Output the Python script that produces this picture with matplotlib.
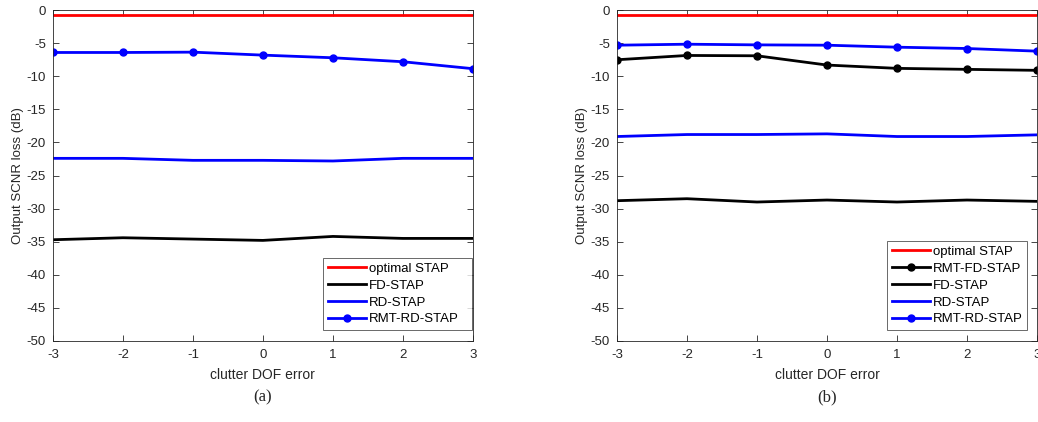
import numpy as np
import matplotlib
matplotlib.use("Agg")
import matplotlib.pyplot as plt

plt.rcParams['font.family'] = ['Liberation Sans', 'DejaVu Sans']
plt.rcParams['axes.unicode_minus'] = False

# clutter DOF error
dof_err = [-3, -2, -1, 0, 1, 2, 3]

# (a)
optimal_a = [-0.75, -0.75, -0.75, -0.75, -0.75, -0.75, -0.75]
fd_a = [-34.7, -34.4, -34.6, -34.8, -34.2, -34.5, -34.5]
rd_a = [-22.4, -22.4, -22.7, -22.7, -22.8, -22.4, -22.4]
rmt_rd_a = [-6.4, -6.4, -6.35, -6.8, -7.2, -7.8, -8.85]

# (b)
optimal_b = [-0.75, -0.75, -0.75, -0.75, -0.75, -0.75, -0.75]
rmt_fd_b = [-7.5, -6.85, -6.9, -8.3, -8.8, -8.95, -9.1]
fd_b = [-28.8, -28.5, -29.0, -28.7, -29.0, -28.7, -28.9]
rd_b = [-19.1, -18.8, -18.8, -18.7, -19.1, -19.1, -18.85]
rmt_rd_b = [-5.3, -5.15, -5.25, -5.3, -5.6, -5.8, -6.2]

gray = '#262626'
lw = 2.0
ms = 5
fs = 9.5

fig = plt.figure(figsize=(10.38, 4.22), dpi=100)
ax1 = fig.add_axes([0.051, 0.192, 0.4046, 0.784])
ax2 = fig.add_axes([0.5944, 0.192, 0.4046, 0.784])

ax1.plot(dof_err, optimal_a, color='#ff0000', lw=lw, label='optimal STAP')
ax1.plot(dof_err, fd_a, color='black', lw=lw, label='FD-STAP')
ax1.plot(dof_err, rd_a, color='#0000ff', lw=lw, label='RD-STAP')
ax1.plot(dof_err, rmt_rd_a, color='#0000ff', lw=lw, marker='o', ms=ms, label='RMT-RD-STAP')

ax2.plot(dof_err, optimal_b, color='#ff0000', lw=lw, label='optimal STAP')
ax2.plot(dof_err, rmt_fd_b, color='black', lw=lw, marker='o', ms=ms, label='RMT-FD-STAP')
ax2.plot(dof_err, fd_b, color='black', lw=lw, label='FD-STAP')
ax2.plot(dof_err, rd_b, color='#0000ff', lw=lw, label='RD-STAP')
ax2.plot(dof_err, rmt_rd_b, color='#0000ff', lw=lw, marker='o', ms=ms, label='RMT-RD-STAP')

# legend boxes (x0, y0, width, height) in axes fraction, matlab-like wide boxes
leg_boxes = [(0.643, 0.033, 0.355, 0.2), (0.643, 0.033, 0.333, 0.2)]

for ax, cap, box in [(ax1, '(a)', leg_boxes[0]), (ax2, '(b)', leg_boxes[1])]:
    ax.set_xlim(-3, 3)
    ax.set_ylim(-50, 0)
    ax.set_xticks(dof_err)
    ax.set_yticks(np.arange(-50, 1, 5))
    ax.tick_params(direction='in', top=True, right=True, colors=gray,
                   labelsize=fs, length=4, width=0.6)
    ax.tick_params(axis='x', pad=6)
    ax.tick_params(axis='y', pad=5)
    for s in ax.spines.values():
        s.set_color(gray)
        s.set_linewidth(0.6)
    ax.set_xlabel('clutter DOF error', fontsize=10, color=gray, labelpad=5)
    ax.set_ylabel('Output SCNR loss (dB)', fontsize=fs, color=gray, labelpad=2)
    leg = ax.legend(loc='lower left', bbox_to_anchor=box, mode='expand', fontsize=fs,
                    frameon=True, fancybox=False, edgecolor=gray,
                    handlelength=2.9, handletextpad=0.2, labelspacing=0.35,
                    borderpad=0.35, borderaxespad=0)
    leg.get_frame().set_linewidth(0.6)
    for t in leg.get_texts():
        t.set_color('black')
    ax.text(0.5, -0.17, cap, transform=ax.transAxes, ha='center', va='center',
            fontsize=12, family='Liberation Serif', color=gray)

fig.savefig('out.png', dpi=100)
